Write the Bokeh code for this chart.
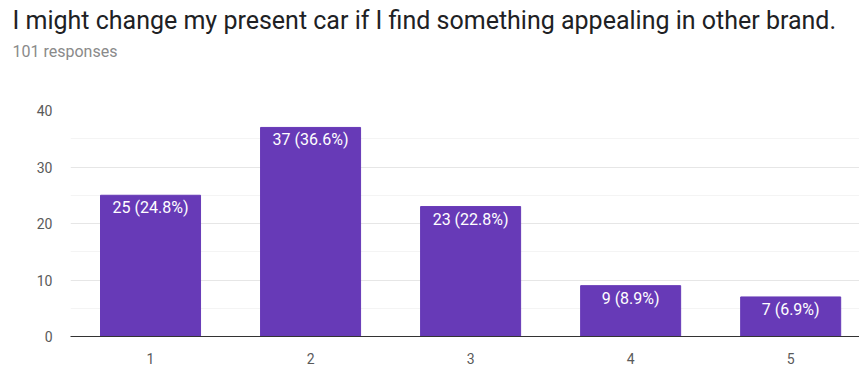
from bokeh.plotting import figure
from bokeh.models import Range1d, Title, FixedTicker, ColumnDataSource
from bokeh.core.properties import value
from bokeh.embed import file_html
from bokeh.resources import INLINE

categories = [1, 2, 3, 4, 5]
counts = [25, 37, 23, 9, 7]
percents = ["24.8%", "36.6%", "22.8%", "8.9%", "6.9%"]
labels = [f"{c} ({p})" for c, p in zip(counts, percents)]
title_text = "I might change my present car if I find something appealing in other brand."
subtitle_text = "101 responses"

src = ColumnDataSource(dict(x=categories, top=counts, label=labels))

p = figure(width=859, height=366, output_backend="svg", toolbar_location=None,
           x_range=Range1d(0.5, 5.43), y_range=Range1d(0, 40),
           min_border_left=70, min_border_right=0, min_border_top=110, min_border_bottom=27)
p.title = None
# spacer between subtitle and plot area
p.add_layout(Title(text=" ", text_font="Roboto", text_font_size="1px",
                   text_color="white", offset=-58, standoff=45), "above")
p.add_layout(Title(text=subtitle_text, text_font="Roboto", text_font_size="16px",
                   text_font_style="normal", text_color="#8a8a8a", offset=-58, standoff=4), "above")
p.add_layout(Title(text=title_text, text_font="Roboto", text_font_size="25px",
                   text_font_style="normal", text_color="#202124", offset=-58, standoff=6), "above")
p.outline_line_color = None
p.background_fill_color = "white"

p.vbar(x="x", top="top", width=0.625, source=src, color="#673ab7")
p.text(x="x", y="top", text="label", source=src, text_align="center", text_baseline="top",
       y_offset=3, text_color="white", text_font=value("Roboto"), text_font_size="16px")

p.xaxis.ticker = FixedTicker(ticks=categories)
p.xaxis.major_tick_line_color = None
p.xaxis.minor_tick_line_color = None
p.xaxis.axis_line_color = "#333333"
p.xaxis.major_label_text_font = "Roboto"
p.xaxis.major_label_text_font_size = "14px"
p.xaxis.major_label_text_color = "#5a5a5a"
p.xaxis.major_label_standoff = 10

p.yaxis.ticker = FixedTicker(ticks=[0, 10, 20, 30, 40], minor_ticks=[5, 15, 25, 35])
p.yaxis.axis_line_color = None
p.yaxis.major_tick_line_color = None
p.yaxis.minor_tick_line_color = None
p.yaxis.major_label_text_font = "Roboto"
p.yaxis.major_label_text_font_size = "14px"
p.yaxis.major_label_text_color = "#5a5a5a"
p.yaxis.major_label_standoff = 12

p.xgrid.grid_line_color = None
p.ygrid.grid_line_color = "#e6e6e6"
p.ygrid.minor_grid_line_color = "#f4f4f4"

open("out.html", "w").write(file_html(p, INLINE))
